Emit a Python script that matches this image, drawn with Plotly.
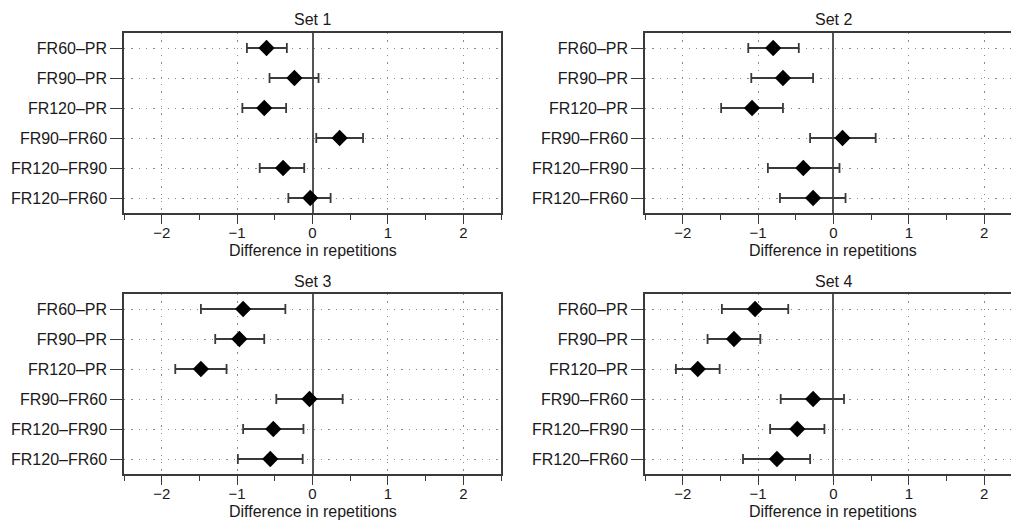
import plotly.graph_objects as go

categories = ["FR60–PR", "FR90–PR", "FR120–PR", "FR90–FR60", "FR120–FR90", "FR120–FR60"]
set_titles = ["Set 1", "Set 2", "Set 3", "Set 4"]
x_title = "Difference in repetitions"
x_tick_vals = [-2, -1, 0, 1, 2]

set1_est = [-0.61, -0.24, -0.64, 0.36, -0.39, -0.03]
set1_lo = [-0.87, -0.57, -0.93, 0.05, -0.70, -0.32]
set1_hi = [-0.34, 0.08, -0.35, 0.67, -0.11, 0.24]

set2_est = [-0.80, -0.67, -1.08, 0.12, -0.40, -0.27]
set2_lo = [-1.13, -1.09, -1.49, -0.31, -0.87, -0.71]
set2_hi = [-0.46, -0.27, -0.67, 0.56, 0.08, 0.16]

set3_est = [-0.92, -0.97, -1.48, -0.04, -0.52, -0.56]
set3_lo = [-1.48, -1.29, -1.82, -0.48, -0.92, -0.99]
set3_hi = [-0.36, -0.64, -1.14, 0.40, -0.12, -0.13]

set4_est = [-1.04, -1.32, -1.80, -0.27, -0.48, -0.75]
set4_lo = [-1.48, -1.67, -2.09, -0.70, -0.84, -1.20]
set4_hi = [-0.60, -0.97, -1.51, 0.14, -0.12, -0.31]

W, H = 1011, 522
FONT = "Liberation Sans, Arial, Helvetica, sans-serif"
FS = 16
TXT = "#1a1a1a"
LINE = "#3a3a3a"
GRID = "#8a8a8a"

sets = [(set1_est, set1_lo, set1_hi), (set2_est, set2_lo, set2_hi),
        (set3_est, set3_lo, set3_hi), (set4_est, set4_lo, set4_hi)]

# pixel geometry of panels: (left, right, top, bottom, x range max, right box line?)
panels = [
    (124, 501, 33, 213, 2.5, True),
    (645, 1011, 33, 213, 2.355, False),
    (124, 501, 294, 474, 2.5, True),
    (645, 1011, 294, 474, 2.355, False),
]

fig = go.Figure()
annotations = []
for i, ((est, lo, hi), (l, r, t, b, xmax, rbox)) in enumerate(zip(sets, panels)):
    n = "" if i == 0 else str(i + 1)
    xa, ya = "x" + n, "y" + n
    plus = [h - e for h, e in zip(hi, est)]
    minus = [e - lo_ for e, lo_ in zip(est, lo)]
    fig.add_trace(go.Scatter(
        x=est, y=categories, xaxis=xa, yaxis=ya, mode="markers",
        marker=dict(symbol="diamond", size=12.5, color="black"),
        error_x=dict(type="data", symmetric=False, array=plus, arrayminus=minus,
                     color=LINE, thickness=1.8, width=5),
        showlegend=False, hoverinfo="x+y",
    ))
    xdom = [l / W, min(r / W, 1.0)]
    ydom = [1 - b / H, 1 - t / H]
    xkey = "xaxis" + n
    ykey = "yaxis" + n
    fig.layout[xkey] = dict(
        domain=xdom, anchor=ya, range=[-2.5, xmax],
        tickmode="array", tickvals=x_tick_vals,
        ticks="outside", ticklen=9, tickwidth=1.4, tickcolor=LINE,
        ticklabelstandoff=-4,
        showline=True, linecolor=LINE, linewidth=1.5, mirror=True,
        showgrid=True, gridcolor=GRID, gridwidth=1.3, griddash="1.3px,6px",
        zeroline=True, zerolinecolor="#555555", zerolinewidth=1.6,
        minor=dict(dtick=0.5, tick0=0, ticks="outside", ticklen=5, tickwidth=1.4,
                   tickcolor=LINE, showgrid=False),
        tickfont=dict(family=FONT, size=15, color=TXT),
        fixedrange=True,
    )
    fig.layout[ykey] = dict(
        domain=ydom, anchor=xa, type="category", categoryorder="array",
        categoryarray=categories, range=[5.5, -0.5],
        ticks="outside", ticklen=12, tickwidth=1.4, tickcolor=LINE,
        showline=True, linecolor=LINE, linewidth=1.5, mirror=rbox,
        showgrid=True, gridcolor=GRID, gridwidth=1.3, griddash="1.3px,6px",
        tickfont=dict(family=FONT, size=FS, color=TXT),
        fixedrange=True,
    )
    span = xmax + 2.5
    zx = l + (r - l) * (2.5 / span)
    annotations.append(dict(
        text=set_titles[i], x=zx / W, y=1 - (t - 13) / H, xref="paper", yref="paper",
        xanchor="center", yanchor="middle", showarrow=False,
        font=dict(family=FONT, size=FS, color=TXT)))
    annotations.append(dict(
        text=x_title, x=zx / W, y=1 - (b + 37) / H, xref="paper", yref="paper",
        xanchor="center", yanchor="middle", showarrow=False,
        font=dict(family=FONT, size=FS, color=TXT)))

fig.update_layout(
    width=W, height=H, margin=dict(l=0, r=0, t=0, b=0),
    paper_bgcolor="white", plot_bgcolor="white",
    annotations=annotations,
    font=dict(family=FONT, size=FS, color=TXT),
)

fig.write_html("out.html", config={"displayModeBar": False},
               post_script="document.body.style.margin='0';document.body.style.overflow='hidden';")
